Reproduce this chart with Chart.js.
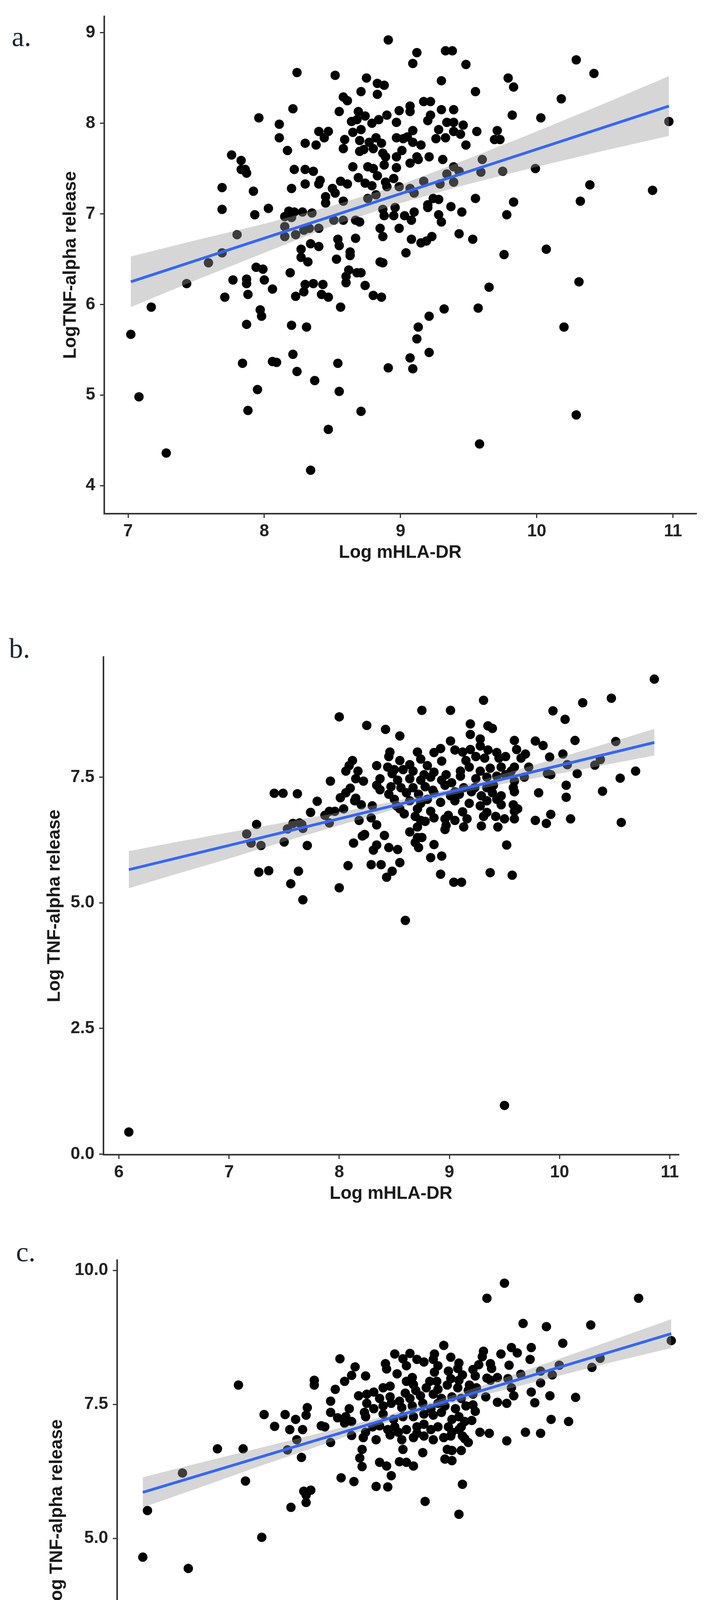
<!DOCTYPE html>
<html>
<head>
<meta charset="utf-8">
<script src="https://cdn.jsdelivr.net/npm/chart.js@4.4.1/dist/chart.umd.min.js"></script>
<style>
html,body{margin:0;padding:0;background:#fff;}
body{width:1839px;height:4686px;position:relative;overflow:hidden;}
.panel{position:absolute;left:0;width:1839px;}
.tag{position:absolute;font-family:"Liberation Serif","Times New Roman",serif;font-size:72px;line-height:1;color:#1b2330;}
</style>
</head>
<body>
<div class="tag" style="left:30px;top:58px;">a.</div>
<div class="tag" style="left:23px;top:1624px;">b.</div>
<div class="tag" style="left:41px;top:3169px;">c.</div>
<div class="panel" style="top:0;height:1500px;"><canvas id="cA" width="1839" height="1500"></canvas></div>
<div class="panel" style="top:1500px;height:1600px;"><canvas id="cB" width="1839" height="1600"></canvas></div>
<div class="panel" style="top:3100px;height:1586px;"><canvas id="cC" width="1839" height="1586"></canvas></div>
<script>
// ---------- Panel a : [Log mHLA-DR, Log TNF-alpha release] ----------
const pointsA = [
[7.02,5.67],[7.08,4.98],[7.17,5.97],[7.28,4.36],[7.43,6.23],[7.59,6.46],[7.69,7.29],[7.69,7.05],[7.69,6.57],[7.71,6.08],[7.76,7.65],[7.77,6.27],[7.80,6.77],[7.83,7.59],[7.83,7.49],[7.84,5.35],[7.86,7.49],[7.87,7.45],[7.87,5.78],[7.87,6.28],[7.87,6.23],[7.88,4.83],[7.88,6.11],[7.92,7.25],[7.93,6.99],[7.94,6.41],[7.95,5.06],[7.96,8.06],[7.97,5.94],[7.98,5.87],[7.99,6.39],[8.00,6.27],[8.03,7.06],[8.06,6.17],[8.06,5.37],
[8.09,5.36],[8.20,5.77],[8.21,5.45],[8.24,5.26],[8.31,5.75],[8.34,4.17],[8.37,5.16],[8.47,4.62],[8.54,5.35],[8.55,5.04],[8.71,4.82],[8.91,5.30],[9.07,5.41],[9.09,5.29],[9.12,5.62],[9.13,5.75],[9.21,5.87],[9.21,5.47],[9.58,4.46],
[8.91,8.92],[9.12,8.78],[9.33,8.80],[9.38,8.80],
[9.69,7.82],[9.71,7.92],[9.73,7.82],[9.75,7.47],[9.76,6.55],[9.78,6.99],[9.79,8.50],[9.82,8.09],[9.83,7.13],[9.83,8.40],[9.99,7.50],[10.03,8.06],[10.07,6.61],[10.18,8.27],[10.20,5.75],[10.29,4.78],[10.29,8.70],[10.31,6.25],[10.32,7.14],[10.39,7.32],[10.42,8.55],[10.85,7.26],[10.97,8.02],
[9.09,8.66],[9.48,8.65],[8.24,8.56],[8.52,8.53],[8.75,8.50],[8.83,8.44],[8.88,8.42],[9.30,8.47],[8.71,8.35],[8.83,8.32],[9.55,8.35],[8.58,8.29],[8.61,8.25],[8.21,8.16],[8.55,8.13],[8.69,8.13],[8.74,8.08],[9.17,8.24],[9.22,8.24],[9.07,8.19],[9.07,8.13],[8.99,8.14],[9.30,8.15],[9.39,8.15],[9.22,8.09],[9.20,8.03],
[8.11,7.99],[8.64,8.02],[8.68,8.04],[8.79,8.00],[8.84,8.04],[8.90,8.09],[8.97,8.01],[9.34,8.01],[9.39,8.01],[9.46,7.98],[9.28,7.93],[9.09,7.92],[9.56,7.91],[8.40,7.91],[8.47,7.91],[8.44,7.84],[8.11,7.84],[8.30,7.78],[8.38,7.76],[8.59,7.82],[8.58,7.72],[8.65,7.90],[8.71,7.93],[8.70,7.81],[8.77,7.79],[8.82,7.84],[8.86,7.78],[8.97,7.84],[9.02,7.83],[9.05,7.85],[9.09,7.79],[9.15,7.76],[9.26,7.83],[9.33,7.84],[9.39,7.91],[9.44,7.88],[9.48,7.76],
[8.17,7.70],[8.70,7.69],[8.73,7.71],[8.80,7.72],[8.87,7.67],[8.89,7.63],[8.97,7.63],[9.01,7.70],[9.12,7.63],[9.21,7.63],[9.31,7.60],[9.60,7.60],[8.22,7.49],[8.30,7.49],[8.36,7.47],[8.65,7.52],[8.76,7.52],[8.80,7.50],[8.88,7.54],[8.97,7.51],[9.07,7.56],[9.13,7.60],[8.83,7.42],[9.39,7.52],[9.34,7.44],[9.43,7.47],[9.59,7.46],
[8.20,7.28],[8.30,7.33],[8.41,7.37],[8.40,7.33],[8.50,7.28],[8.56,7.36],[8.61,7.33],[8.69,7.40],[8.74,7.34],[8.79,7.31],[8.89,7.35],[8.95,7.39],[8.99,7.30],[8.90,7.30],[9.07,7.28],[9.10,7.23],[9.17,7.36],[9.29,7.33],[9.39,7.35],[8.45,7.19],[8.52,7.23],[8.58,7.14],[8.76,7.17],[8.82,7.21],[8.45,7.12],[9.55,7.17],
[8.18,7.03],[8.22,7.02],[8.28,7.02],[8.35,7.01],[8.15,6.97],[8.20,6.96],[8.51,6.93],[8.58,6.93],[8.67,6.93],[8.70,6.91],[8.87,7.05],[8.96,7.07],[8.88,6.98],[8.95,6.98],[9.03,6.98],[9.08,6.93],[9.10,7.02],[9.20,7.10],[9.24,7.17],[9.28,7.16],[9.20,7.07],[9.37,7.08],[9.45,7.02],[9.28,6.99],[9.30,6.91],
[8.15,6.86],[8.15,6.75],[8.23,6.77],[8.29,6.82],[8.33,6.84],[8.40,6.84],[8.85,6.84],[8.87,6.75],[8.99,6.84],[9.08,6.72],[9.15,6.68],[9.19,6.70],[9.23,6.75],[9.43,6.78],[9.53,6.72],
[8.34,6.67],[8.40,6.64],[8.27,6.61],[8.27,6.52],[8.32,6.47],[8.54,6.72],[8.55,6.65],[8.67,6.73],[8.63,6.58],[8.63,6.54],[8.53,6.50],[8.85,6.47],[8.87,6.46],[9.04,6.57],[9.65,6.19],
[8.19,6.35],[8.62,6.38],[8.60,6.31],[8.68,6.35],[8.71,6.35],[8.60,6.24],[8.30,6.22],[8.36,6.23],[8.43,6.22],[8.29,6.14],[8.23,6.09],[8.42,6.11],[8.47,6.08],[8.74,6.21],[8.80,6.10],[8.86,6.08],[8.56,5.97],[9.32,5.95],[9.57,5.96]
];
const fitXA = [7.02, 10.97];
const fitYA = [6.25, 8.19];
const bandXA = [7.02,7.5,8.0,8.5,9.0,9.5,10.0,10.5,10.97];
const bandUpA = [6.53,6.71,6.89,7.09,7.32,7.61,7.91,8.22,8.52];
const bandLoA = [5.97,6.27,6.57,6.87,7.12,7.33,7.52,7.70,7.86];
const xTicksA = [7,8,9,10,11];
const yTicksA = [4,5,6,7,8,9];

// ---------- Panel b ----------
const pointsB = [
[6.09,0.44],[9.50,0.97],[8.60,4.65],[7.16,6.37],[7.20,6.19],[7.25,6.56],[7.27,5.61],[7.29,6.14],[7.36,5.64],[7.41,7.18],[7.49,7.18],[7.50,6.21],[7.53,6.47],[7.56,5.38],[7.58,6.58],[7.62,7.17],[7.63,5.63],[7.64,6.59],[7.66,6.56],[7.67,6.48],[7.67,5.06],[7.71,6.14],[7.74,6.80],[8.00,5.30],[8.75,8.83],[9.01,8.83],[9.31,9.03],[9.94,8.82],[10.21,8.98],[10.32,7.74],[10.37,7.85],[10.39,7.22],[10.47,9.07],[10.51,8.21],[10.55,7.48],[10.56,6.60],[10.69,7.62],[10.86,9.45],
[8.00,8.70],[8.25,8.53],[8.42,8.45],[8.55,8.32],[9.19,8.56],[9.35,8.52],[9.39,8.47],[10.05,8.65],[9.19,8.35],[9.28,8.26],[9.01,8.22],[9.59,8.23],[9.78,8.22],[9.85,8.13],[10.14,8.23],
[8.46,8.00],[8.71,8.00],[8.92,8.07],[9.05,8.04],[9.12,8.00],[9.19,8.05],[9.28,8.12],[9.35,8.04],[9.43,7.99],[9.61,8.05],[9.69,7.96],[10.03,7.96],[9.91,7.90],[8.86,7.99],
[8.12,7.83],[8.09,7.73],[8.34,7.73],[8.45,7.91],[8.55,7.83],[8.74,7.86],[8.64,7.75],[8.80,7.73],[8.93,7.82],[9.15,7.83],[9.24,7.91],[9.32,7.88],[9.45,7.88],[9.51,7.91],[9.65,7.88],[9.72,7.70],[9.59,7.70],[10.07,7.75],[8.44,7.70],[8.50,7.65],
[8.06,7.62],[8.17,7.62],[8.37,7.47],[8.48,7.57],[8.58,7.65],[8.67,7.62],[8.77,7.55],[8.86,7.60],[8.97,7.55],[9.10,7.62],[9.18,7.70],[9.28,7.62],[9.37,7.68],[9.47,7.70],[9.56,7.62],[9.68,7.50],[9.89,7.57],[10.16,7.57],
[7.92,7.42],[8.15,7.47],[8.22,7.42],[8.53,7.44],[8.64,7.47],[8.74,7.44],[8.83,7.50],[8.93,7.44],[9.02,7.39],[9.10,7.52],[9.24,7.47],[9.34,7.50],[9.43,7.52],[9.51,7.55],[9.59,7.42],[9.92,7.55],[10.06,7.34],
[8.10,7.28],[8.34,7.34],[8.37,7.25],[8.47,7.31],[8.56,7.29],[8.67,7.29],[8.78,7.31],[8.85,7.24],[8.96,7.34],[9.05,7.21],[9.13,7.29],[9.23,7.29],[9.34,7.29],[9.40,7.34],[9.58,7.29],[9.59,7.21],
[8.06,7.19],[8.01,7.09],[8.45,7.16],[8.61,7.19],[8.72,7.16],[8.86,7.19],[9.01,7.13],[9.09,7.16],[9.20,7.21],[9.29,7.13],[9.39,7.19],[9.47,7.13],[9.81,7.19],[10.06,7.10],
[7.80,7.02],[8.15,7.08],[8.14,7.03],[8.20,6.95],[8.30,6.93],[8.50,7.06],[8.52,6.93],[8.64,7.03],[8.74,6.98],[8.80,7.06],[8.92,7.00],[9.05,7.03],[9.18,6.98],[9.28,6.93],[9.34,7.03],[9.43,7.06],[9.47,6.95],[9.58,6.95],[9.62,6.87],
[7.91,6.82],[8.04,6.87],[7.96,6.82],[7.87,6.74],[8.55,6.87],[8.59,6.77],[8.71,6.87],[8.83,6.82],[8.99,6.74],[9.12,6.81],[9.34,6.80],[9.59,6.82],[9.92,6.76],[10.10,6.67],
[7.91,6.59],[8.18,6.64],[8.29,6.69],[8.34,6.55],[8.69,6.72],[8.74,6.64],[8.86,6.69],[8.96,6.67],[9.05,6.64],[9.16,6.67],[9.31,6.72],[9.42,6.72],[9.50,6.67],[9.59,6.67],[9.78,6.64],[9.88,6.58],
[8.71,6.51],[8.78,6.62],[8.97,6.54],[9.13,6.51],[9.29,6.53],[9.44,6.51],[8.96,6.46],
[8.21,6.33],[8.23,6.36],[8.41,6.34],[8.13,6.19],[8.64,6.41],[8.71,6.30],[8.75,6.30],[8.69,6.20],[8.86,6.16],[9.52,6.15],[8.34,6.15],[8.31,6.05],[8.45,6.10],[8.53,6.06],[8.72,6.10],[8.83,5.90],[8.93,5.93],
[8.08,5.74],[8.29,5.76],[8.38,5.76],[8.55,5.80],[8.48,5.63],[8.43,5.51],[8.92,5.57],[9.37,5.60],[9.57,5.55],[9.04,5.41],[9.11,5.41]
];
const fitXB = [6.09, 10.86];
const fitYB = [5.66, 8.19];
const bandXB = [6.09,6.5,7.0,7.5,8.0,8.5,9.0,9.5,10.0,10.5,10.86];
const bandUpB = [6.03,6.20,6.40,6.60,6.80,7.02,7.26,7.57,7.89,8.22,8.46];
const bandLoB = [5.29,5.56,5.88,6.22,6.54,6.86,7.14,7.37,7.57,7.78,7.93];
const xTicksB = [6,7,8,9,10,11];
const yTicksB = [0,2.5,5,7.5];

// ---------- Panel c ----------
const pointsC = [
[6.76,4.65],[6.80,5.52],[7.10,6.22],[7.15,4.44],[7.40,6.67],[7.58,7.86],[7.62,6.67],[7.64,6.07],[7.78,5.02],[7.80,7.31],[7.89,7.09],[7.98,7.31],[8.00,6.65],[8.03,5.58],[8.16,5.67],[8.16,5.81],[8.47,1.07],[9.18,5.69],[9.47,5.45],[9.71,9.48],[9.86,9.76],[10.02,9.01],[10.22,8.95],[10.33,8.23],[10.36,8.64],[10.41,7.18],[10.47,7.63],[10.60,8.98],[10.61,8.19],[10.68,8.36],[11.01,9.48],[11.29,8.69],
[9.34,8.60],[8.92,8.44],[9.05,8.45],[9.26,8.44],[8.45,8.35],[8.84,8.26],[8.85,8.16],[8.99,8.35],[9.02,8.22],[9.11,8.34],[9.17,8.29],[9.25,8.34],[9.29,8.22],[9.40,8.38],[9.47,8.27],[9.68,8.49],[9.67,8.39],[9.83,8.44],[9.92,8.56],[9.97,8.46],[10.09,8.56],[10.08,8.34],[9.74,8.26],[9.75,8.17],[9.90,8.23],
[8.58,8.20],[8.94,8.07],[9.26,8.10],[9.38,8.12],[9.46,8.17],[9.50,8.05],[9.59,8.15],[9.64,8.24],[9.61,8.03],[9.71,7.99],[9.80,8.00],[9.89,7.98],[10.00,8.06],[10.17,8.12],[10.27,8.05],[8.55,8.04],[8.67,8.03],[8.23,7.95],[8.23,7.86],[8.49,7.93],[8.41,7.78],[9.07,8.00],[9.02,7.93],[9.08,7.87],[9.22,7.93],[9.28,7.93],[9.40,7.98],[9.47,7.95],[9.56,7.86],[9.74,7.95],[10.17,7.90],
[8.88,7.84],[8.82,7.81],[9.01,7.71],[9.10,7.76],[9.19,7.81],[9.29,7.78],[9.37,7.86],[9.46,7.81],[9.55,7.76],[9.62,7.81],[9.70,7.64],[9.80,7.54],[9.88,7.52],[9.94,7.66],[10.09,7.73],[10.25,7.66],[10.12,7.53],[8.61,7.66],[8.68,7.69],[8.74,7.73],[8.79,7.61],[8.88,7.64],[8.96,7.56],[9.05,7.61],[9.14,7.66],[9.25,7.69],[9.32,7.61],[9.41,7.64],[9.49,7.61],[9.59,7.69],[9.92,7.81],
[8.37,7.56],[8.17,7.44],[8.16,7.30],[8.07,7.22],[8.37,7.35],[8.43,7.25],[8.50,7.27],[8.53,7.42],[8.55,7.18],[8.68,7.52],[8.66,7.35],[8.67,7.27],[8.74,7.42],[8.82,7.47],[8.89,7.52],[8.98,7.44],[9.07,7.47],[9.16,7.52],[9.23,7.42],[9.29,7.52],[9.35,7.47],[9.44,7.42],[9.53,7.47],[9.59,7.49],[9.61,7.37],[9.58,7.20],[10.26,7.22],
[8.82,7.32],[8.91,7.22],[8.99,7.27],[9.08,7.27],[9.17,7.32],[9.25,7.30],[9.32,7.35],[9.41,7.22],[9.47,7.27],[9.52,7.18],[9.49,7.08],[8.29,7.10],[8.32,7.08],[8.49,7.15],[8.02,7.03],[8.13,7.03],[8.73,7.08],[8.79,7.10],[8.86,7.03],[8.92,7.08],[8.95,6.98],[9.02,7.03],[9.11,7.08],[9.11,6.96],[9.17,7.13],[9.23,7.03],[9.29,7.08],[9.38,7.08],[9.41,6.98],[9.47,7.03],
[8.08,6.84],[8.37,6.79],[8.55,6.92],[8.65,6.88],[8.67,6.98],[8.76,6.84],[8.88,6.93],[8.98,6.84],[9.08,6.88],[9.17,6.91],[9.25,6.84],[9.34,6.88],[9.40,6.91],[9.50,6.91],[9.55,6.79],[9.52,6.86],[9.65,6.98],[9.73,6.96],[9.88,6.82],[10.04,6.98],[10.17,6.96],
[8.12,6.51],[8.64,6.66],[8.62,6.50],[8.64,6.34],[8.79,6.42],[8.85,6.35],[8.99,6.66],[8.96,6.43],[9.02,6.42],[9.08,6.35],[9.16,6.60],[9.37,6.66],[9.41,6.64],[9.49,6.64],[9.35,6.48],[9.41,6.45],
[8.46,6.13],[8.57,6.06],[8.76,5.97],[8.86,5.96],[8.89,6.17],[9.50,6.01],[8.20,5.90],[8.14,5.88]
];
const fitXC = [6.76, 11.29];
const fitYC = [5.86, 8.82];
const bandXC = [6.76,7.25,7.75,8.25,8.75,9.25,9.75,10.25,10.75,11.29];
const bandUpC = [6.14,6.41,6.68,6.95,7.23,7.55,7.91,8.29,8.67,9.09];
const bandLoC = [5.58,5.95,6.34,6.71,7.09,7.43,7.71,7.99,8.27,8.55];
const xTicksC = [7,8,9,10,11];
const yTicksC = [2.5,5,7.5,10];

const xTitle = 'Log mHLA-DR';
const yTitles = ['LogTNF-alpha release', 'Log TNF-alpha release', 'Log TNF-alpha release'];

const tickFont = {family:'"Liberation Sans", Arial, sans-serif', size:44, weight:'bold', lineHeight:1.2};
const titleFont = {family:'"Liberation Sans", Arial, sans-serif', size:46, weight:'bold', lineHeight:1.2};
const AX = '#333333';

function pairs(xs, ys){ return xs.map((x,i)=>({x:x, y:ys[i]})); }
function pts(list){ return list.map(p=>({x:p[0], y:p[1]})); }

function makeChart(id, cfg){
  const ctx = document.getElementById(id);
  new Chart(ctx, {
    type: 'scatter',
    data: {
      datasets: [
        {type:'scatter', data: pts(cfg.p), pointRadius:12, pointHoverRadius:12,
         backgroundColor:'#000000', borderWidth:0, pointBorderWidth:0, order:3},
        {type:'line', data: pairs(cfg.bx, cfg.bu), borderWidth:0, pointRadius:0, fill:false, order:2, borderColor:'rgba(0,0,0,0)'},
        {type:'line', data: pairs(cfg.bx, cfg.bl), borderWidth:0, pointRadius:0, fill:'-1', order:2,
         borderColor:'rgba(0,0,0,0)', backgroundColor:'rgba(153,153,153,0.4)'},
        {type:'line', data: pairs(cfg.fx, cfg.fy), borderColor:'#3366FF', borderWidth:7, pointRadius:0, fill:false, order:1}
      ]
    },
    options: {
      responsive:false, animation:false, devicePixelRatio:1,
      layout:{padding:{left:0, top:cfg.top, right:cfg.right, bottom:0}},
      plugins:{legend:{display:false}, tooltip:{enabled:false}},
      scales:{
        x:{
          type:'linear', min:cfg.xmin, max:cfg.xmax,
          afterBuildTicks:(s)=>{ s.ticks = cfg.xt.map(v=>({value:v})); },
          afterFit:(s)=>{ s.height = cfg.xh; },
          ticks:{font:tickFont, color:'#222', padding:8, maxRotation:0, autoSkip:false,
                 callback:(v)=>String(v)},
          grid:{display:true, drawOnChartArea:false, drawTicks:true, tickLength:11, color:AX, lineWidth:3},
          border:{display:true, color:AX, width:4},
          title:{display:true, text:xTitle, font:titleFont, color:'#1a1a1a', padding:{top:0, bottom:cfg.xtp}}
        },
        y:{
          type:'linear', min:cfg.ymin, max:cfg.ymax,
          afterBuildTicks:(s)=>{ s.ticks = cfg.yt.map(v=>({value:v})); },
          afterFit:(s)=>{ s.width = cfg.yw; },
          ticks:{font:tickFont, color:'#222', padding:12, autoSkip:false,
                 callback:(v)=> cfg.dec ? Number(v).toFixed(1) : String(v)},
          grid:{display:true, drawOnChartArea:false, drawTicks:true, tickLength:11, color:AX, lineWidth:3},
          border:{display:true, color:AX, width:4},
          title:{display:true, text:cfg.yTitle, font:titleFont, color:'#1a1a1a', padding:{top:cfg.ytp, bottom:0}}
        }
      }
    }
  });
}

makeChart('cA', {p:pointsA, fx:fitXA, fy:fitYA, bx:bandXA, bu:bandUpA, bl:bandLoA,
  xt:xTicksA, yt:yTicksA, xmin:6.825, xmax:11.17, ymin:3.69, ymax:9.18, dec:false,
  top:42, right:56, yw:267, xh:185, xtp:57, ytp:154, yTitle:yTitles[0]});
makeChart('cB', {p:pointsB, fx:fitXB, fy:fitYB, bx:bandXB, bu:bandUpB, bl:bandLoB,
  xt:xTicksB, yt:yTicksB, xmin:5.86, xmax:11.08, ymin:-0.01, ymax:9.89, dec:true,
  top:182, right:101, yw:265, xh:144, xtp:16, ytp:113, yTitle:yTitles[1]});
makeChart('cC', {p:pointsC, fx:fitXC, fy:fitYC, bx:bandXC, bu:bandUpC, bl:bandLoC,
  xt:xTicksC, yt:yTicksC, xmin:6.54, xmax:11.51, ymin:0.66, ymax:10.19, dec:true,
  top:126, right:54, yw:300, xh:152, xtp:21, ytp:119, yTitle:yTitles[2]});
</script>
</body>
</html>
